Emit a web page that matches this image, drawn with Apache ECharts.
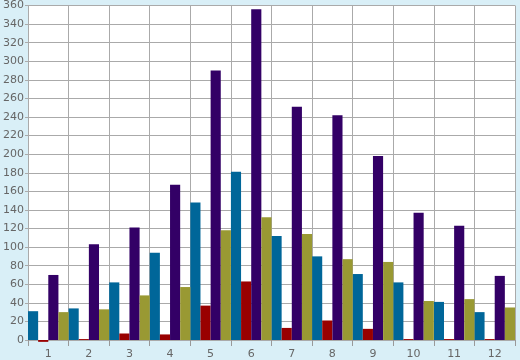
<!DOCTYPE html>
<html>
<head>
<meta charset="utf-8">
<script src="https://cdn.jsdelivr.net/npm/echarts@6/dist/echarts.min.js"></script>
<style>
html,body{margin:0;padding:0;background:#d9eff7;}
#chart{width:520px;height:360px;}
</style>
</head>
<body>
<div id="chart"></div>
<script>
var categories = ['1','2','3','4','5','6','7','8','9','10','11','12'];
var seriesBlue   = [31, 34, 62, 94, 148, 181, 112, 90, 71, 62, 41, 30];
var seriesRed    = [-2, 1, 7, 6, 37, 63, 13, 21, 12, 1, 1, 1];
var seriesPurple = [70, 103, 121, 167, 290, 356, 251, 242, 198, 137, 123, 69];
var seriesOlive  = [30, 33, 48, 57, 118, 132, 114, 87, 84, 42, 44, 35];
var yTicks = {min: 0, max: 360, interval: 20};

var chart = echarts.init(document.getElementById('chart'), null, {renderer: 'canvas'});
var labelStyle = {color: '#666666', fontFamily: 'DejaVu Sans', fontSize: 11};
function bar(data, color, extra) {
  var s = {type: 'bar', data: data, itemStyle: {color: color}, barGap: '0%', barCategoryGap: '0%', animation: false};
  if (extra) for (var k in extra) s[k] = extra[k];
  return s;
}
chart.setOption({
  backgroundColor: '#d9eff7',
  animation: false,
  grid: {left: 26, right: 5, top: 5, bottom: 20, show: true, backgroundColor: '#ffffff', borderWidth: 0},
  xAxis: {
    type: 'category', data: categories, boundaryGap: true,
    axisLine: {show: false},
    axisTick: {show: true, length: 6, lineStyle: {color: '#999999'}},
    axisLabel: Object.assign({margin: 9}, labelStyle),
    splitLine: {show: true, lineStyle: {color: '#aaaaaa', width: 1}}
  },
  yAxis: {
    type: 'value', min: yTicks.min, max: yTicks.max, interval: yTicks.interval,
    axisLine: {show: false},
    axisTick: {show: true, length: 3, lineStyle: {color: '#aaaaaa'}},
    axisLabel: Object.assign({margin: 4}, labelStyle),
    splitLine: {show: true, lineStyle: {color: '#aaaaaa', width: 1}}
  },
  series: [
    bar(seriesBlue, '#006699'),
    bar(seriesRed, '#990000', {clip: false}),
    bar(seriesPurple, '#330066'),
    bar(seriesOlive, '#999933')
  ]
});
</script>
</body>
</html>
